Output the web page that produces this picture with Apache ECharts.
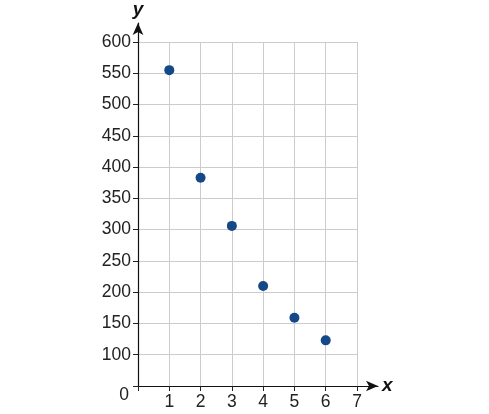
<!DOCTYPE html>
<html>
<head>
<meta charset="utf-8">
<script src="https://cdn.jsdelivr.net/npm/echarts@6/dist/echarts.min.js"></script>
<style>
  html, body { margin: 0; padding: 0; background: #fff; }
  #chart { width: 489px; height: 414px; }
</style>
</head>
<body>
<div id="chart"></div>
<script>
var xValues = [1, 2, 3, 4, 5, 6];
var yValues = [555, 383, 306, 210, 159, 123];

var xMin = 0, xMax = 7, xStep = 1;
var yMin = 50, yMax = 600, yStep = 50;   // bottom of the axis is drawn as "0"

var myChart = echarts.init(document.getElementById('chart'));

var points = xValues.map(function (x, i) { return [x, yValues[i]]; });

var font = 'Liberation Sans, Arial, sans-serif';
var textColor = '#222';
var labelSize = 17.5;

var option = {
    animation: false,
    grid: [
        // main plot with gridlines, ticks and labels
        { left: 138, right: 132, top: 42, bottom: 28 },
        // only the x arrow, a bit longer
        { left: 138, right: 111, top: 42, bottom: 28 },
        // only the y arrow, a bit taller
        { left: 138, right: 132, top: 20, bottom: 28 }
    ],
    xAxis: [{
        gridIndex: 0,
        type: 'value',
        min: xMin, max: xMax, interval: xStep,
        axisLine: { show: false },
        axisTick: { show: true, length: 5, lineStyle: { color: '#222' } },
        axisLabel: {
            color: textColor, fontSize: labelSize, fontFamily: font, margin: 7,
            formatter: function (v) { return v === 0 ? '' : v; }
        },
        splitLine: { show: true, lineStyle: { color: '#cccccc', width: 1 } }
    }, {
        gridIndex: 1,
        type: 'value',
        min: 0, max: 1,
        axisLine: {
            show: true, symbol: ['none', 'arrow'], symbolSize: [8, 12],
            lineStyle: { color: '#111', width: 1.2 }
        },
        axisTick: { show: false },
        axisLabel: { show: false },
        splitLine: { show: false },
        name: 'x',
        nameGap: 4,
        nameTextStyle: { color: '#111', fontSize: 19, fontStyle: 'italic', fontWeight: 'bold', fontFamily: font }
    }, {
        gridIndex: 2,
        type: 'value',
        min: 0, max: 1,
        show: false
    }],
    yAxis: [{
        gridIndex: 0,
        type: 'value',
        min: yMin, max: yMax, interval: yStep,
        axisLine: { show: false },
        axisTick: { show: true, length: 5, lineStyle: { color: '#222' } },
        axisLabel: {
            color: textColor, fontSize: labelSize, fontFamily: font, margin: 7,
            formatter: function (v) { return v === yMin ? '{z|0}' : v; },
            rich: { z: { fontSize: labelSize, color: textColor, fontFamily: font, padding: [18, 2, 0, 0] } }
        },
        splitLine: { show: true, lineStyle: { color: '#cccccc', width: 1 } }
    }, {
        gridIndex: 1,
        type: 'value',
        min: 0, max: 1,
        show: false
    }, {
        gridIndex: 2,
        type: 'value',
        min: 0, max: 1,
        axisLine: {
            show: true, symbol: ['none', 'arrow'], symbolSize: [8, 12],
            lineStyle: { color: '#111', width: 1.2 }
        },
        axisTick: { show: false },
        axisLabel: { show: false },
        splitLine: { show: false },
        name: 'y',
        nameLocation: 'end',
        nameGap: 4,
        nameTextStyle: { color: '#111', fontSize: 19, fontStyle: 'italic', fontWeight: 'bold', fontFamily: font }
    }],
    series: [{
        type: 'scatter',
        xAxisIndex: 0,
        yAxisIndex: 0,
        data: points,
        symbolSize: 10,
        itemStyle: { color: '#154889', opacity: 1 }
    }]
};

myChart.setOption(option);
</script>
</body>
</html>
